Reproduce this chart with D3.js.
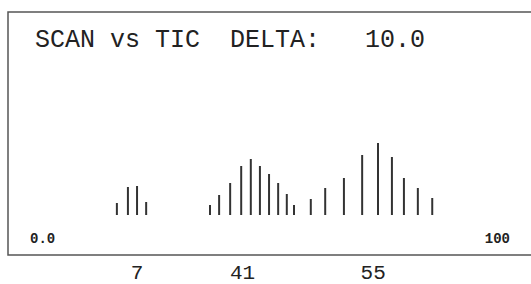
<!DOCTYPE html>
<html>
<head>
<meta charset="utf-8">
<script src="https://cdn.jsdelivr.net/npm/d3@7"></script>
<style>
  html, body { margin: 0; padding: 0; background: #fff; overflow: hidden; }
  svg { display: block; }
  .mono { font-family: "Liberation Mono", "DejaVu Sans Mono", monospace; white-space: pre; }
</style>
</head>
<body>
<svg id="chart" width="531" height="284"></svg>
<script>
// scan positions (0-100) and TIC intensities
const scans = [
  18.1, 20.4, 22.3, 24.2,
  37.5, 39.4, 41.7, 44.0, 46.0, 47.9, 49.8, 51.7, 53.5, 55.0,
  58.5, 61.5, 65.4, 69.2, 72.5, 75.4, 77.9, 80.8, 83.8
];
const tic = [
  12, 28, 29, 13,
  10, 20, 32, 49, 56, 49, 41, 32, 21, 10,
  16, 27, 37, 60, 72, 58, 37, 27, 17
];
const axisLabels = ["0.0", "100"];
const peakLabels = ["7", "41", "55"];
const peakScans = [22.3, 44.3, 71.5];
const title = "SCAN vs TIC  DELTA:   10.0";

const svg = d3.select("#chart");

const x = d3.scaleLinear().domain([0, 100]).range([30, 510]);
const y = d3.scaleLinear().domain([0, 100]).range([215, 115]);

// frame (open on the right, runs off the page)
svg.append("path")
  .attr("d", "M540,12 L8,12 L8,255 L540,255")
  .attr("fill", "none")
  .attr("stroke", "#555")
  .attr("stroke-width", 1.5);

// title
svg.append("text")
  .attr("class", "mono")
  .attr("xml:space", "preserve")
  .attr("x", 35)
  .attr("y", 47)
  .attr("font-size", 25)
  .attr("fill", "#222")
  .text(title);

// bars
svg.selectAll("line.bar")
  .data(scans)
  .enter()
  .append("line")
  .attr("class", "bar")
  .attr("x1", (d) => x(d))
  .attr("x2", (d) => x(d))
  .attr("y1", y(0))
  .attr("y2", (d, i) => y(tic[i]))
  .attr("stroke", "#333")
  .attr("stroke-width", 2);

// axis end labels
svg.selectAll("text.end")
  .data(axisLabels)
  .enter()
  .append("text")
  .attr("class", "end mono")
  .attr("x", (d, i) => (i === 0 ? x(0) : x(100)))
  .attr("y", 243)
  .attr("text-anchor", (d, i) => (i === 0 ? "start" : "end"))
  .attr("font-size", 14)
  .attr("font-weight", "bold")
  .attr("fill", "#222")
  .text((d) => d);

// peak labels under the frame
svg.selectAll("text.peak")
  .data(peakLabels)
  .enter()
  .append("text")
  .attr("class", "peak mono")
  .attr("x", (d, i) => x(peakScans[i]))
  .attr("y", 279)
  .attr("text-anchor", "middle")
  .attr("font-size", 21)
  .attr("fill", "#222")
  .text((d) => d);
</script>
</body>
</html>
